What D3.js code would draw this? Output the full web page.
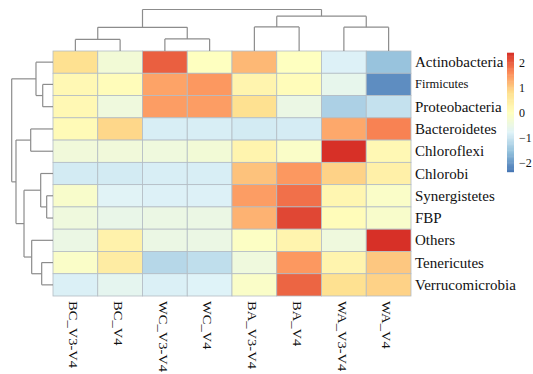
<!DOCTYPE html>
<html>
<head>
<meta charset="utf-8">
<script src="https://cdn.jsdelivr.net/npm/d3@7"></script>
<style>
  body { margin: 0; background: #fff; }
  svg { display: block; }
</style>
</head>
<body>
<svg id="chart"></svg>
<script>
// columns / rows of the heatmap (row scaled values)
const samples = ["BC_V3-V4", "BC_V4", "WC_V3-V4", "WC_V4", "BA_V3-V4", "BA_V4", "WA_V3-V4", "WA_V4"]
const phyla = ["Actinobacteria", "Firmicutes", "Proteobacteria", "Bacteroidetes", "Chloroflexi",
    "Chlorobi", "Synergistetes", "FBP", "Others", "Tenericutes", "Verrucomicrobia"]

const zActinobacteria = [0.8, -0.3, 2.0, 0.0, 1.2, 0.0, -0.8, -1.5]
const zFirmicutes = [0.2, 0.1, 1.4, 1.5, 0.3, 0.1, -0.6, -2.1]
const zProteobacteria = [0.2, -0.4, 1.45, 1.45, 0.8, -0.5, -1.3, -1.05]
const zBacteroidetes = [0.15, 0.9, -0.85, -0.85, -0.9, -0.88, 1.35, 1.7]
const zChloroflexi = [-0.35, -0.35, -0.4, -0.3, 0.3, -0.1, 2.4, 0.2]
const zChlorobi = [-0.9, -0.9, -0.85, -0.85, 1.1, 1.5, 0.95, 0.4]
const zSynergistetes = [-0.15, -0.75, -0.8, -0.8, 1.45, 1.85, 0.25, -0.1]
const zFBP = [-0.4, -0.55, -0.5, -0.5, 1.25, 2.2, 0.1, -0.15]
const zOthers = [-0.5, 0.35, -0.5, -0.5, -0.05, 0.3, -0.4, 2.4]
const zTenericutes = [-0.1, 0.5, -1.2, -1.1, -0.4, 1.5, 0.3, 1.05]
const zVerrucomicrobia = [-0.82, -0.65, -0.82, -0.78, -0.1, 1.95, 0.8, 0.95]

const matrix = [zActinobacteria, zFirmicutes, zProteobacteria, zBacteroidetes, zChloroflexi,
    zChlorobi, zSynergistetes, zFBP, zOthers, zTenericutes, zVerrucomicrobia]

const legendTicks = [-2, -1, 0, 1, 2]
const legendRange = [-2.36, 2.4]
const palette = ["#4575B4", "#91BFDB", "#E0F3F8", "#FFFFBF", "#FEE090", "#FC8D59", "#D73027"]

// cluster trees (h = merge height)
const colTree = {h: 10, children: [
    {h: 5.7, children: [
        {h: 2.8, children: [{name: "BC_V3-V4"}, {name: "BC_V4"}]},
        {h: 2.9, children: [{name: "WC_V3-V4"}, {name: "WC_V4"}]}]},
    {h: 8.4, children: [
        {h: 5.8, children: [{name: "BA_V3-V4"}, {name: "BA_V4"}]},
        {h: 5.75, children: [{name: "WA_V3-V4"}, {name: "WA_V4"}]}]}]}

const rowTree = {h: 10, children: [
    {h: 4.12, children: [
        {name: "Actinobacteria"},
        {h: 2.49, children: [{name: "Firmicutes"}, {name: "Proteobacteria"}]}]},
    {h: 8.96, children: [
        {h: 5.4, children: [{name: "Bacteroidetes"}, {name: "Chloroflexi"}]},
        {h: 7.02, children: [
            {h: 2.98, children: [
                {name: "Chlorobi"},
                {h: 1.53, children: [{name: "Synergistetes"}, {name: "FBP"}]}]},
            {h: 5.16, children: [
                {name: "Others"},
                {h: 2.74, children: [{name: "Tenericutes"}, {name: "Verrucomicrobia"}]}]}]}]}]}

const svg = d3.select("#chart")
    .attr("width", 533)
    .attr("height", 374)

const x = d3.scaleBand().domain(samples).range([53, 411])
const y = d3.scaleBand().domain(phyla).range([51, 296])

const lo = legendRange[0], hi = legendRange[1]
const color = d3.scaleLinear()
    .domain(palette.map((c, i) => lo + i * (hi - lo) / (palette.length - 1)))
    .range(palette)
    .clamp(true)

// cells
var cells = []
for (var i in phyla) {
    for (var j in samples) {
        cells.push({row: phyla[i], col: samples[j], v: matrix[i][j]})
    }
}

svg.append("g").selectAll("rect")
    .data(cells)
    .join("rect")
    .attr("x", d => x(d.col))
    .attr("y", d => y(d.row))
    .attr("width", x.bandwidth())
    .attr("height", y.bandwidth())
    .attr("fill", d => color(d.v))
    .attr("stroke", "#b3bcc4")
    .attr("stroke-width", 0.8)

// dendrograms
function drawTree(tree, leafPos, hScale, vertical) {
    const root = d3.hierarchy(tree)
    root.eachAfter(n => {
        n.pos = n.children ? d3.mean(n.children, c => c.pos) : leafPos(n.data.name)
        n.hh = n.children ? n.data.h : 0
    })
    const segs = []
    root.each(n => {
        if (!n.children) return
        const a = n.children[0], b = n.children[n.children.length - 1]
        segs.push([a.pos, hScale(n.hh), b.pos, hScale(n.hh)])
        n.children.forEach(c => segs.push([c.pos, hScale(n.hh), c.pos, hScale(c.hh)]))
    })
    svg.append("g").selectAll("line")
        .data(segs)
        .join("line")
        .attr("x1", d => vertical ? d[0] : d[1])
        .attr("y1", d => vertical ? d[1] : d[0])
        .attr("x2", d => vertical ? d[2] : d[3])
        .attr("y2", d => vertical ? d[3] : d[2])
        .attr("stroke", "#8c8c8c")
        .attr("stroke-width", 1.2)
}

const colH = d3.scaleLinear().domain([0, 10]).range([51, 9.5])
const rowH = d3.scaleLinear().domain([0, 10]).range([53, 11.7])
drawTree(colTree, n => x(n) + x.bandwidth() / 2, colH, true)
drawTree(rowTree, n => y(n) + y.bandwidth() / 2, rowH, false)

// row labels
svg.append("g").selectAll("text")
    .data(phyla)
    .join("text")
    .attr("x", 415)
    .attr("y", d => y(d) + y.bandwidth() / 2)
    .attr("dominant-baseline", "central")
    .attr("font-family", "'Liberation Serif', 'Times New Roman', serif")
    .attr("font-size", d => d == "Firmicutes" ? "12.5px" : "15px")
    .attr("fill", "#111")
    .text(d => d)

// column labels
svg.append("g").selectAll("text")
    .data(samples)
    .join("text")
    .attr("transform", d => `translate(${x(d) + x.bandwidth() / 2 - 2},301) rotate(90) scale(1.12,1)`)
    .attr("dominant-baseline", "central")
    .attr("font-family", "'Liberation Serif', 'Times New Roman', serif")
    .attr("font-size", "13px")
    .attr("fill", "#111")
    .text(d => d)

// legend
const ly = d3.scaleLinear().domain(legendRange).range([171.7, 52.7])
const steps = d3.range(lo, hi, (hi - lo) / 100)
svg.append("g").selectAll("rect")
    .data(steps)
    .join("rect")
    .attr("x", 507)
    .attr("width", 7)
    .attr("y", d => ly(d + (hi - lo) / 100))
    .attr("height", d => ly(d) - ly(d + (hi - lo) / 100) + 0.5)
    .attr("fill", d => color(d + (hi - lo) / 200))

const legendAxis = svg.append("g")
    .attr("transform", "translate(516,0)")
    .call(d3.axisRight(ly).tickValues(legendTicks).tickFormat(d3.format("d")).tickSize(0).tickPadding(3))
legendAxis.select(".domain").remove()
legendAxis.selectAll("text")
    .attr("font-family", "'Liberation Serif', 'Times New Roman', serif")
    .attr("font-size", "12px")
    .attr("fill", "#111")
</script>
</body>
</html>
